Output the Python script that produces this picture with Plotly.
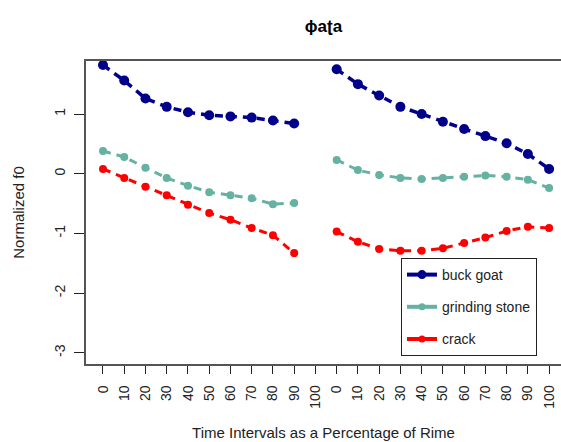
import plotly.graph_objects as go

# ---- data ----
interval_labels = ["0", "10", "20", "30", "40", "50", "60", "70", "80", "90", "100"]
tick_labels = interval_labels + interval_labels
positions = list(range(1, 23))

buck_goat = [1.82, 1.56, 1.26, 1.12, 1.03, 0.98, 0.96, 0.94, 0.89, 0.84, None,
             1.75, 1.50, 1.31, 1.12, 1.00, 0.87, 0.75, 0.63, 0.51, 0.33, 0.08]
grinding_stone = [0.38, 0.28, 0.10, -0.07, -0.20, -0.31, -0.36, -0.41, -0.51, -0.49, None,
                  0.23, 0.06, -0.02, -0.07, -0.09, -0.07, -0.05, -0.03, -0.05, -0.10, -0.24]
crack = [0.08, -0.07, -0.22, -0.36, -0.52, -0.66, -0.77, -0.91, -1.03, -1.33, None,
         -0.97, -1.14, -1.26, -1.29, -1.29, -1.25, -1.16, -1.07, -0.96, -0.89, -0.91]

series_names = ["buck goat", "grinding stone", "crack"]
series_values = [buck_goat, grinding_stone, crack]
series_colors = ["#00008B", "#66B2A2", "#FF0000"]
marker_sizes = [10, 8, 8]
line_widths = [3.5, 3, 3]

y_ticks = [-3, -2, -1, 0, 1]

FONT = "Liberation Sans, Arial, sans-serif"

fig = go.Figure()
for name, vals, col, ms, lw in zip(series_names, series_values, series_colors, marker_sizes, line_widths):
    fig.add_trace(go.Scatter(
        x=positions, y=vals, mode="lines+markers", name=name,
        line=dict(color=col, width=lw, dash="8px,6px"),
        marker=dict(color=col, size=ms, symbol="circle"),
        connectgaps=False, showlegend=False,
    ))
# legend entries (solid lines as in the reference legend)
for i, (name, col, ms) in enumerate(zip(series_names, series_colors, marker_sizes)):
    fig.add_trace(go.Scatter(
        x=[None], y=[None], mode="lines+markers", name=name,
        line=dict(color=col, width=4), marker=dict(color=col, size=ms - 1),
        legendgroup=f"g{i}", showlegend=True,
    ))

fig.update_layout(
    width=561, height=442,
    margin=dict(l=86, r=0, t=61, b=78),
    paper_bgcolor="white", plot_bgcolor="white",
    font=dict(family=FONT, size=14, color="#222222"),
    title=dict(text="<b>ɸaʈa</b>", x=0.5, xref="paper", xanchor="center",
               y=1 - 26 / 442, yref="container", yanchor="middle",
               font=dict(family=FONT, size=17, color="#000000")),
    showlegend=True,
    legend=dict(
        x=(401 - 86) / 475, y=(364 - 258) / 303, xanchor="left", yanchor="top",
        bordercolor="#222222", borderwidth=1, bgcolor="white",
        font=dict(family=FONT, size=14, color="#222222"),
        tracegroupgap=11, itemwidth=30,
        entrywidth=130,
    ),
    xaxis=dict(
        range=[0.2, 22.56], tickmode="array", tickvals=positions, ticktext=tick_labels,
        tickangle=-90, ticks="outside", ticklen=8, tickwidth=1, tickcolor="#222222",
        ticklabelstandoff=6,
        showgrid=False, zeroline=False, showline=True, linecolor="#555555", linewidth=1.5,
        mirror=True,
        tickfont=dict(family=FONT, size=14, color="#222222"),
        title=dict(text="Time Intervals as a Percentage of Rime", standoff=20,
                   font=dict(family=FONT, size=15, color="#222222")),
    ),
    yaxis=dict(
        range=[-3.188, 1.888], tickmode="array", tickvals=y_ticks,
        ticktext=[str(v) for v in y_ticks], tickangle=-90,
        ticks="outside", ticklen=10, tickwidth=1, tickcolor="#222222",
        ticklabelstandoff=4,
        showgrid=False, zeroline=False, showline=True, linecolor="#555555", linewidth=1.5,
        tickfont=dict(family=FONT, size=14, color="#222222"),
        title=dict(text="Normalized f0", standoff=23,
                   font=dict(family=FONT, size=15, color="#222222")),
    ),
)

fig.write_html("out.html")
